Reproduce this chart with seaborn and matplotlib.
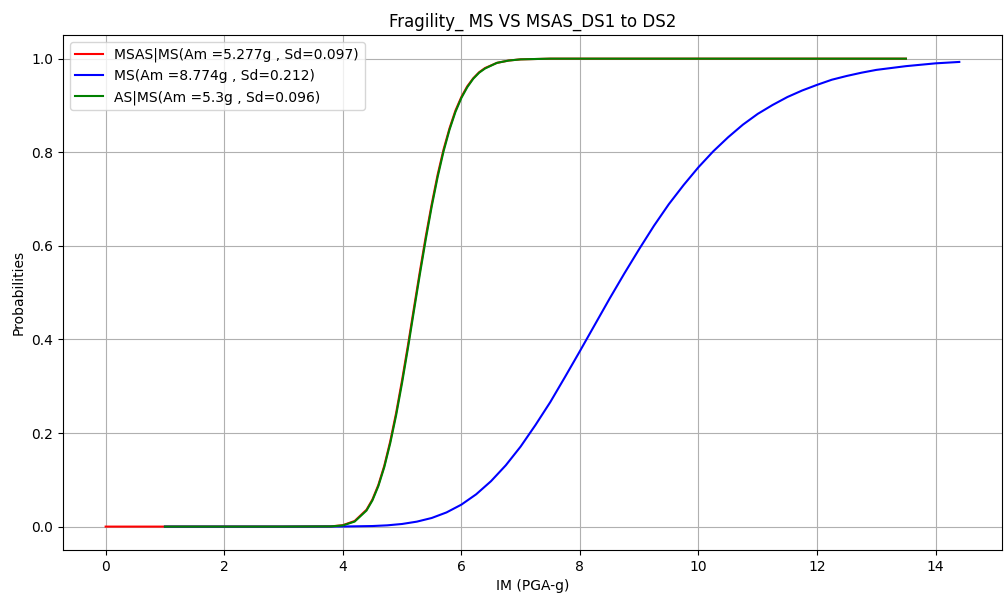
import matplotlib
matplotlib.use("Agg")
import matplotlib.pyplot as plt
import seaborn as sns
import pandas as pd

# Data
msas_x = [0.0, 1.0, 2.0, 3.0, 3.8, 4.0, 4.2, 4.4, 4.5, 4.6, 4.7, 4.8, 4.9, 5.0, 5.1, 5.2,
          5.3, 5.4, 5.5, 5.6, 5.7, 5.8, 5.9, 6.0, 6.1, 6.2, 6.3, 6.4, 6.6, 6.8, 7.0,
          7.5, 8.0, 9.0, 10.0, 11.0, 12.0, 13.0, 13.5]
msas_y = [0.0, 0.0, 0.0, 0.0, 0.0005, 0.003, 0.012, 0.036, 0.058, 0.089, 0.130, 0.182,
          0.243, 0.313, 0.388, 0.467, 0.545, 0.620, 0.689, 0.752, 0.806, 0.851, 0.889,
          0.918, 0.941, 0.958, 0.971, 0.980, 0.991, 0.996, 0.9985,
          1.0, 1.0, 1.0, 1.0, 1.0, 1.0, 1.0, 1.0]

ms_x = [1.0, 2.0, 3.0, 4.0, 4.5, 4.75, 5.0, 5.25, 5.5, 5.75, 6.0, 6.25, 6.5, 6.75, 7.0,
        7.25, 7.5, 7.75, 8.0, 8.25, 8.5, 8.75, 9.0, 9.25, 9.5, 9.75, 10.0, 10.25, 10.5,
        10.75, 11.0, 11.25, 11.5, 11.75, 12.0, 12.25, 12.5, 12.75, 13.0, 13.25, 13.5,
        13.75, 14.0, 14.2, 14.4]
ms_y = [0.0, 0.0, 0.0, 0.0002, 0.0012, 0.0027, 0.0056, 0.0106, 0.0184, 0.0303, 0.0469,
        0.069, 0.097, 0.131, 0.171, 0.217, 0.266, 0.320, 0.375, 0.431, 0.487, 0.541,
        0.593, 0.643, 0.689, 0.730, 0.768, 0.802, 0.832, 0.859, 0.882, 0.901, 0.918,
        0.932, 0.944, 0.955, 0.963, 0.970, 0.976, 0.980, 0.984, 0.987, 0.990, 0.9915,
        0.993]

as_x = [1.0, 2.0, 3.0, 3.8, 4.0, 4.2, 4.4, 4.5, 4.6, 4.7, 4.8, 4.9, 5.0, 5.1, 5.2,
        5.3, 5.4, 5.5, 5.6, 5.7, 5.8, 5.9, 6.0, 6.1, 6.2, 6.3, 6.4, 6.6, 6.8, 7.0,
        7.5, 8.0, 9.0, 10.0, 11.0, 12.0, 13.0, 13.5]
as_y = [0.0, 0.0, 0.0, 0.0004, 0.0025, 0.0107, 0.0343, 0.056, 0.0866, 0.127, 0.178,
        0.238, 0.307, 0.382, 0.461, 0.539, 0.614, 0.684, 0.747, 0.802, 0.848, 0.886,
        0.916, 0.939, 0.957, 0.970, 0.979, 0.991, 0.996, 0.9985,
        1.0, 1.0, 1.0, 1.0, 1.0, 1.0, 1.0, 1.0]

labels = ["MSAS|MS(Am =5.277g , Sd=0.097)",
          "MS(Am =8.774g , Sd=0.212)",
          "AS|MS(Am =5.3g , Sd=0.096)"]
colors = ["red", "blue", "green"]

fig = plt.figure(figsize=(10.06, 6.08), dpi=100)
ax = fig.add_axes([0.0626, 0.0954, 0.9334, 0.8466])

for xs, ys, lab, col in zip([msas_x, ms_x, as_x], [msas_y, ms_y, as_y], labels, colors):
    df = pd.DataFrame({"x": xs, "y": ys})
    sns.lineplot(data=df, x="x", y="y", color=col, label=lab, ax=ax, linewidth=1.5)

ax.set_title("Fragility_ MS VS MSAS_DS1 to DS2", fontsize=12)
ax.set_xlabel("IM (PGA-g)")
ax.set_ylabel("Probabilities")
ax.grid(True)
ax.legend(loc="upper left")
fig.savefig("out.png", dpi=100)
